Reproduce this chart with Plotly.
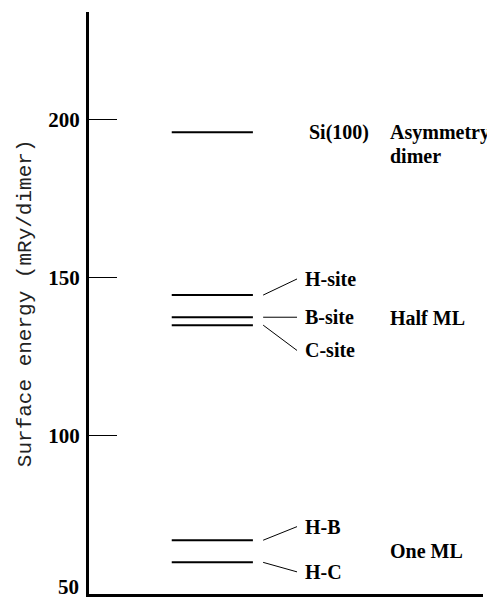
import plotly.graph_objects as go

# ---- data ----
level_names = ["Si(100)", "H-site", "B-site", "C-site", "H-B", "H-C"]
energies = [196, 144.5, 137.5, 135, 67, 60]          # mRy/dimer
group_names = ["Asymmetry", "dimer", "Half ML", "One ML"]
y_ticks = [50, 100, 150, 200]

# ---- layout helpers (positions in axis units) ----
LEVEL_X = (21, 41.6)
CONN_X = (44.2, 52.8)
LABEL_X = 54.3
label_y = {"H-site": 149.6, "B-site": 137.5, "C-site": 127.0, "H-B": 71.3, "H-C": 57.0}
group_pos = [(75.9, 196), (75.9, 188.6), (75.9, 137.2), (75.9, 63.6)]

SERIF = "Liberation Serif"
MONO = "Liberation Mono"
TXT = 20

fig = go.Figure()

for name, e in zip(level_names, energies):
    fig.add_trace(go.Scatter(x=list(LEVEL_X), y=[e, e], mode="lines",
                             line=dict(color="black", width=2), showlegend=False,
                             hoverinfo="skip"))
    if name in label_y:
        ly = label_y[name]
        fig.add_trace(go.Scatter(x=list(CONN_X), y=[e, ly], mode="lines",
                                 line=dict(color="black", width=1), showlegend=False,
                                 hoverinfo="skip"))
        fig.add_annotation(x=LABEL_X, y=ly, text=name, showarrow=False,
                           xanchor="left", yanchor="middle",
                           font=dict(family=SERIF, size=TXT, color="black", weight="bold"))
    else:
        fig.add_annotation(x=LABEL_X + 1, y=e, text=name, showarrow=False,
                           xanchor="left", yanchor="middle",
                           font=dict(family=SERIF, size=TXT, color="black", weight="bold"))

for g, (gx, gy) in zip(group_names, group_pos):
    fig.add_annotation(x=gx, y=gy, text=g, showarrow=False,
                       xanchor="left", yanchor="middle",
                       font=dict(family=SERIF, size=TXT, color="black", weight="bold"))

fig.add_annotation(xref="paper", yref="paper", x=-0.162, y=0.5,
                   text="Surface energy (mRy/dimer)", textangle=-90,
                   showarrow=False, xanchor="center", yanchor="middle",
                   font=dict(family=MONO, size=21, color="#222"))

# lowest tick label sits on the bottom edge: draw it so it stays inside the page
fig.add_annotation(xref="paper", yref="paper", x=0, y=0, text=str(y_ticks[0]),
                   showarrow=False, xanchor="right", yanchor="bottom",
                   xshift=-9, yshift=-6, borderpad=0,
                   font=dict(family=SERIF, size=21, color="black", weight="bold"))

# the page body has an 8px default margin; compensate in figure size/margins
fig.update_layout(
    width=487, height=592,
    margin=dict(l=81, r=12, t=4, b=6, autoexpand=False),
    paper_bgcolor="white", plot_bgcolor="white",
    showlegend=False,
    xaxis=dict(range=[0, 100], showgrid=False, zeroline=False, showline=True,
               linecolor="black", linewidth=3, showticklabels=False, ticks=""),
    yaxis=dict(range=[50, 234], showgrid=False, zeroline=False, showline=True,
               linecolor="black", linewidth=3, tickvals=y_ticks,
               ticktext=[""] + [str(t) for t in y_ticks[1:]],
               ticks="inside", ticklen=28, tickwidth=1, tickcolor="black",
               ticklabelstandoff=2,
               tickfont=dict(family=SERIF, size=21, color="black", weight="bold")),
)

fig.write_html("out.html")
